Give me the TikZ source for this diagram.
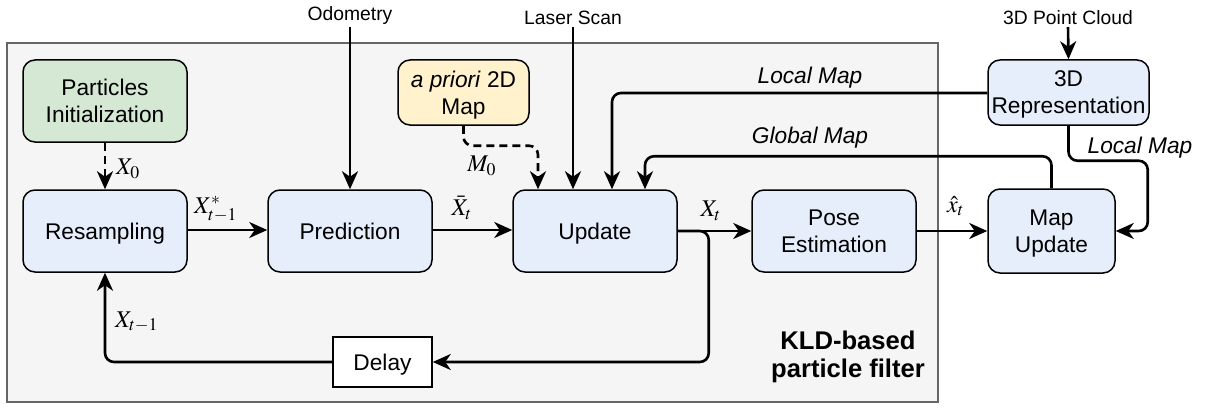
\RequirePackage{fix-cm}
\documentclass[tikz,border=0pt]{standalone}
\usepackage{graphicx}
\usepackage{mathptmx}
\usepackage{fontspec}
\setmainfont{Liberation Sans}
\usetikzlibrary{arrows.meta,calc}
\definecolor{blockblue}{HTML}{E6EEFC}
\definecolor{blockgreen}{HTML}{D5E8D4}
\definecolor{blockyellow}{HTML}{FFF2CC}
\definecolor{filterbg}{HTML}{F5F5F5}
\definecolor{filterline}{HTML}{666666}
% signal symbols, set large
\newcommand{\sig}[1]{\scalebox{2.4}{$#1$}}
\tikzset{
  block/.style={draw=black, line width=1.5pt, rounded corners=12pt, align=center,
    minimum width=164pt, minimum height=82pt, inner sep=0pt, fill=blockblue,
    text depth=0pt, font=\fontsize{22.7}{27}\selectfont},
  plainbox/.style={draw=black, line width=1.5pt, fill=white, inner sep=0pt,
    text depth=0pt, minimum width=99pt, minimum height=50pt,
    font=\fontsize{22.7}{27}\selectfont},
  srclabel/.style={font=\fontsize{19.3}{23}\selectfont, inner sep=2pt, anchor=south},
  conn/.style={line width=2.6pt, rounded corners=9pt,
    -{Stealth[length=18pt,width=16pt,inset=5.5pt]}},
  dashconn/.style={conn, dash pattern=on 8pt off 5pt},
  maplabel/.style={font=\itshape\fontsize{22.7}{27}\selectfont, inner sep=0pt},
  mathlabel/.style={inner sep=0pt},
}
\begin{document}
\begin{tikzpicture}[x=1pt,y=-1pt]
\useasboundingbox (0,0) rectangle (1206,409);
\fill[white] (0,0) rectangle (1206,409);

% particle filter frame
\draw[filterline, fill=filterbg, line width=1.5pt] (7,43) rectangle (938,402);
\node[font=\bfseries\fontsize{25.6}{28}\selectfont, align=center, inner sep=0pt]
  (kld) at (848,357) {KLD-based\\particle filter};

% blocks
\node[block, fill=blockgreen] (init) at (105,101) {Particles\\Initialization};
\node[block] (resamp) at (105,231) {Resampling};
\node[block] (pred) at (350,231) {Prediction};
\node[block] (upd) at (595,231) {Update};
\node[block] (pose) at (834,231) {Pose\\Estimation};
\node[block, minimum width=127pt, minimum height=84pt] (mapupd) at (1051.5,231) {Map\\Update};
\node[block, minimum width=161pt, minimum height=65pt] (rep) at (1068.5,92.5) {3D\\Representation};
\node[block, fill=blockyellow, minimum width=131pt, minimum height=65pt] (prior) at (463.5,92.5) {\textit{a priori} 2D\\Map};
\node[plainbox] (delay) at (382.5,362) {Delay};

% sensor inputs
\node[srclabel] (odo) at (350,27) {Odometry};
\node[srclabel] (laser) at (573,27) {Laser Scan};
\node[srclabel] (cloud) at (1068,27) {3D Point Cloud};

\draw[conn] (odo.south) -- (pred.north);
\draw[conn] (laser.south) -- (laser.south |- upd.north);
\draw[conn] (cloud.south) -- (rep.north);

% initial particles and prior map
\draw[dashconn] (init.south) -- (resamp.north);
\node[mathlabel, anchor=west] (x0) at (116,169) {\sig{X_0}};
\coordinate (m0in) at ($(upd.north)+(-57,0)$);
\draw[dashconn] (prior.south) -- ++(0,20) -| (m0in);
\node[mathlabel] (m0) at (482,166) {\sig{M_0}};

% main chain
\draw[conn] (resamp.east |- 0,230) -- (pred.west |- 0,230);
\node[mathlabel] (xstar) at (216,209) {\sig{X^*_{t-1}}};
\draw[conn] (pred.east |- 0,230) -- (upd.west |- 0,230);
\node[mathlabel] (xbar) at (462,208) {\sig{\bar{X}_t}};
\draw[conn] (upd.east) -- (pose.west);
\node[mathlabel] (xt) at (711,211) {\sig{X_t}};
\draw[conn] (pose.east) -- (mapupd.west);
\node[mathlabel] (xhat) at (956,206) {\sig{\hat{x}_t}};

% feedback through the delay
\draw[conn] (upd.east) -- ++(31,0) |- (delay.east);
\draw[conn] (delay.west) -| (resamp.south);
\node[mathlabel] (xprev) at (137,322) {\sig{X_{t-1}}};

% maps fed back into the update
\coordinate (localin) at ($(upd.north)+(17,0)$);
\draw[conn] (rep.west |- 0,93) -| (localin);
\node[maplabel] (locallbl) at (810,78) {Local Map};
\coordinate (globalin) at ($(upd.north)+(50,0)$);
\draw[conn] (mapupd.north) -- ++(0,-32) -| (globalin);
\node[maplabel] (globallbl) at (810,138) {Global Map};
\draw[conn] (rep.south) -- ++(0,35) -| ($(mapupd.east)+(32,0)$) -- (mapupd.east);
\node[maplabel] (local2lbl) at (1140,148) {Local Map};
\end{tikzpicture}
\end{document}
